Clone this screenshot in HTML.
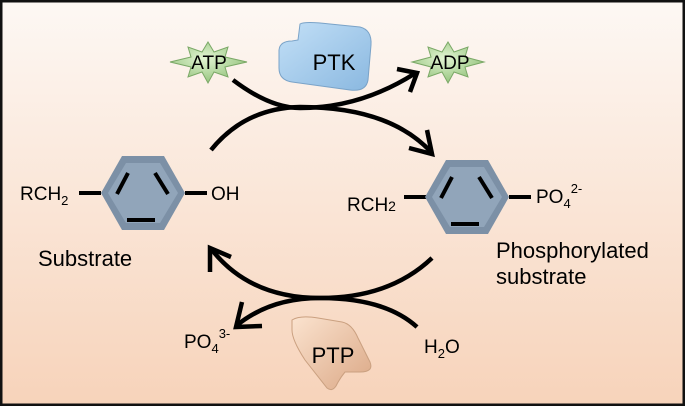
<!DOCTYPE html>
<html><head><style>
html,body{margin:0;padding:0}
body{width:685px;height:406px;overflow:hidden}
svg text{font-family:"Liberation Sans",Arial,sans-serif;fill:#000}
</style></head><body>
<svg width="685" height="406" viewBox="0 0 685 406">
<defs>
<linearGradient id="bg" x1="0" y1="0" x2="0" y2="1"><stop offset="0" stop-color="#fdf8f4"/><stop offset="1" stop-color="#f7d3ba"/></linearGradient>
<radialGradient id="star" cx="0.45" cy="0.4" r="0.6"><stop offset="0" stop-color="#e2f5d2"/><stop offset="1" stop-color="#96c47f"/></radialGradient>
<linearGradient id="blue" x1="0" y1="0" x2="1" y2="1"><stop offset="0" stop-color="#c3e0f7"/><stop offset="1" stop-color="#8ab8e0"/></linearGradient>
<linearGradient id="tan" x1="0" y1="0" x2="1" y2="1"><stop offset="0" stop-color="#fbe3cf"/><stop offset="1" stop-color="#dba886"/></linearGradient>
<g id="hex">
<polygon points="-21,-37 21,-37 42,0 21,37 -21,37 -42,0" fill="#7c90a6"/>
<polygon points="-17,-30 17,-30 35,0 17,30 -17,30 -35,0" fill="#91a5ba"/>
<line x1="-15" y1="-20" x2="-26" y2="1" stroke="#000" stroke-width="4"/>
<line x1="12" y1="-20" x2="25" y2="1" stroke="#000" stroke-width="4"/>
<line x1="-16" y1="27" x2="12" y2="27" stroke="#000" stroke-width="4"/>
</g>
</defs>
<rect x="1" y="1" width="683" height="404" fill="url(#bg)" stroke="#111" stroke-width="3"/>
<polygon points="208,42 214,52 228,47 225,57 247,62 225,67 228,77 214,72 208,83 202,72 188,77 191,67 170,62 191,57 188,47 202,52" fill="url(#star)" stroke="#7aa866" stroke-width="1"/>
<text x="209" y="69" font-size="19" text-anchor="middle">ATP</text>
<polygon points="448,42 454,52 468,47 465,57 484,62 465,67 468,77 454,72 448,83 442,72 428,77 431,67 412,62 431,57 428,47 442,52" fill="url(#star)" stroke="#7aa866" stroke-width="1"/>
<text x="450" y="69" font-size="19" text-anchor="middle">ADP</text>
<path d="M300,24 Q305,21 330,24 L360,27 Q372,30 371,45 L368,80 Q366,92 350,90 L292,82 Q279,80 279,68 L279,50 Q280,41 292,41 L298,40 Z" fill="url(#blue)" stroke="#7aa3c8" stroke-width="1"/>
<text x="334" y="70" font-size="22" text-anchor="middle">PTK</text>
<path d="M292,320 Q300,315 318,318 L342,322 Q352,324 358,338 L370,362 Q374,372 360,372 L345,372 Q340,378 336,386 Q332,392 327,388 L305,360 Q292,340 292,330 Z" fill="url(#tan)" stroke="#caa080" stroke-width="1"/>
<text x="333" y="363" font-size="22" text-anchor="middle">PTP</text>
<g fill="none" stroke="#000" stroke-width="4.5" stroke-linecap="butt">
<path d="M233,80 Q270,108 300,108 Q360,108 414,74"/>
<path d="M397,69 L417,73 L410,92"/>
<path d="M211,150 Q245,108 300,107 Q390,107 432,153"/>
<path d="M409,148 L432,154 L427,130"/>
<path d="M432,258 Q390,298 320,298 Q250,298 212,250"/>
<path d="M210,272 L210,248 L231,257"/>
<path d="M417,327 Q385,298 320,298 Q270,298 236,326"/>
<path d="M242,302 L236,327 L262,326"/>
</g>
<line x1="79" y1="193" x2="101" y2="193" stroke="#000" stroke-width="4"/>
<line x1="185" y1="193" x2="207" y2="193" stroke="#000" stroke-width="4"/>
<use href="#hex" x="143" y="193"/>
<line x1="404" y1="197" x2="426" y2="197" stroke="#000" stroke-width="4"/>
<line x1="509" y1="197" x2="531" y2="197" stroke="#000" stroke-width="4"/>
<use href="#hex" x="467" y="197"/>
<text x="20" y="200" font-size="19">RCH<tspan font-size="13" dy="5">2</tspan></text>
<text x="211" y="200" font-size="19">OH</text>
<text x="38" y="266" font-size="22">Substrate</text>
<text x="347" y="211" font-size="19">RCH<tspan font-size="14">2</tspan></text>
<text x="536" y="203" font-size="19">PO<tspan font-size="13" dy="5">4</tspan><tspan font-size="13" dy="-15">2-</tspan></text>
<text x="496" y="258" font-size="22">Phosphorylated</text>
<text x="496" y="284" font-size="22">substrate</text>
<text x="184" y="348" font-size="19">PO<tspan font-size="13" dy="5">4</tspan><tspan font-size="13" dy="-15">3-</tspan></text>
<text x="424" y="353" font-size="19">H<tspan font-size="13" dy="5">2</tspan><tspan dy="-5">O</tspan></text>
</svg>
</body></html>
